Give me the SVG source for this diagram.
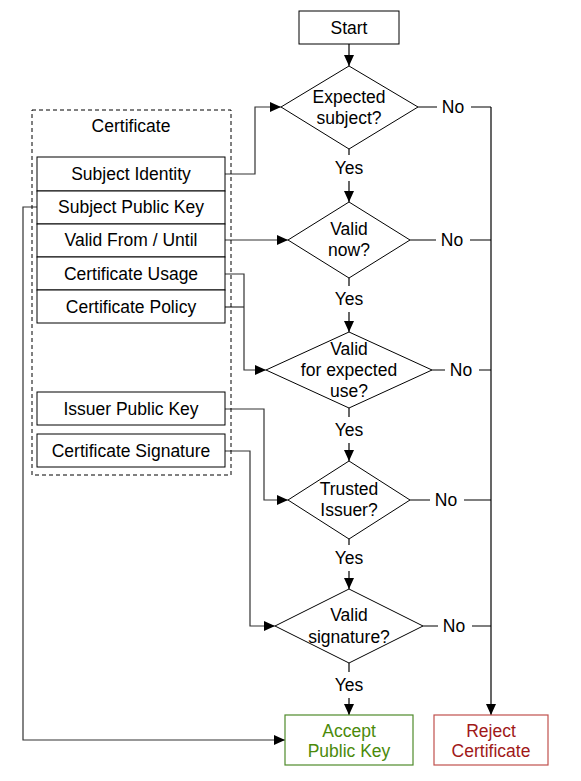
<svg xmlns="http://www.w3.org/2000/svg" width="581" height="781" viewBox="0 0 581 781">
<defs>
<marker id="arr" markerUnits="userSpaceOnUse" markerWidth="12" markerHeight="10" refX="11" refY="5" orient="auto">
<path d="M0,0 L11,5 L0,10 Z" fill="#000"/>
</marker>
<style>
text{font-family:"Liberation Sans",Arial,sans-serif;font-size:17.5px;fill:#000;text-anchor:middle;dominant-baseline:central}
.box{fill:#fff;stroke:#000;stroke-width:1}
.dia{fill:#fff;stroke:#000;stroke-width:1}
.ln{fill:none;stroke:#000;stroke-width:1.2}
.cl{fill:none;stroke:#333;stroke-width:1.2}
.lbl{fill:#fff;stroke:none}
</style>
</defs>
<rect width="581" height="781" fill="#fff"/>

<g id="connectors">
<line class="ln" x1="349" y1="44" x2="349" y2="66" marker-end="url(#arr)"/>
<line class="ln" x1="349" y1="149" x2="349" y2="202" marker-end="url(#arr)"/>
<line class="ln" x1="349" y1="278" x2="349" y2="332" marker-end="url(#arr)"/>
<line class="ln" x1="349" y1="408" x2="349" y2="461" marker-end="url(#arr)"/>
<line class="ln" x1="349" y1="539" x2="349" y2="589" marker-end="url(#arr)"/>
<line class="ln" x1="349" y1="663" x2="349" y2="715" marker-end="url(#arr)"/>
<line class="ln" x1="418" y1="107" x2="491" y2="107"/>
<line class="ln" x1="410" y1="240" x2="491" y2="240"/>
<line class="ln" x1="432" y1="370" x2="491" y2="370"/>
<line class="ln" x1="410" y1="500" x2="491" y2="500"/>
<line class="ln" x1="423" y1="626" x2="491" y2="626"/>
<line class="ln" x1="491" y1="107" x2="491" y2="715" marker-end="url(#arr)"/>
<polyline class="cl" points="225,174 255,174 255,107 281,107" marker-end="url(#arr)"/>
<polyline class="cl" points="225,240 288,240" marker-end="url(#arr)"/>
<polyline class="cl" points="225,274 244,274 244,370 266,370" marker-end="url(#arr)"/>
<polyline class="cl" points="225,307 244,307"/>
<polyline class="cl" points="225,409 264,409 264,500 288,500" marker-end="url(#arr)"/>
<polyline class="cl" points="225,451 250,451 250,626 275,626" marker-end="url(#arr)"/>
<polyline class="cl" points="37,207 23,207 23,740 285,740" marker-end="url(#arr)"/>
<rect class="lbl" x="333" y="155" width="32" height="26"/><text x="349" y="168">Yes</text>
<rect class="lbl" x="333" y="286" width="32" height="26"/><text x="349" y="299">Yes</text>
<rect class="lbl" x="333" y="417" width="32" height="26"/><text x="349" y="430">Yes</text>
<rect class="lbl" x="333" y="545" width="32" height="26"/><text x="349" y="558">Yes</text>
<rect class="lbl" x="333" y="672" width="32" height="26"/><text x="349" y="685">Yes</text>
<rect class="lbl" x="437" y="96" width="34" height="22"/><text x="453" y="107">No</text>
<rect class="lbl" x="436" y="229" width="34" height="22"/><text x="452" y="240">No</text>
<rect class="lbl" x="445" y="359" width="34" height="22"/><text x="461" y="370">No</text>
<rect class="lbl" x="430" y="489" width="34" height="22"/><text x="446" y="500">No</text>
<rect class="lbl" x="438" y="615" width="34" height="22"/><text x="454" y="626">No</text>
</g>

<g id="start">
<rect class="box" x="299" y="11" width="100" height="33"/>
<text x="349" y="28">Start</text>
</g>

<g id="certificate">
<rect x="32" y="110" width="199" height="365" fill="none" stroke="#000" stroke-width="1" stroke-dasharray="4,3"/>
<text x="131" y="126">Certificate</text>
</g>
<g id="subject-identity"><rect class="box" x="37" y="157" width="188" height="34"/><text x="131" y="174">Subject Identity</text></g>
<g id="subject-public-key"><rect class="box" x="37" y="191" width="188" height="33"/><text x="131" y="207">Subject Public Key</text></g>
<g id="valid-from-until"><rect class="box" x="37" y="224" width="188" height="33"/><text x="131" y="240">Valid From / Until</text></g>
<g id="certificate-usage"><rect class="box" x="37" y="257" width="188" height="33"/><text x="131" y="274">Certificate Usage</text></g>
<g id="certificate-policy"><rect class="box" x="37" y="290" width="188" height="33"/><text x="131" y="307">Certificate Policy</text></g>
<g id="issuer-public-key"><rect class="box" x="37" y="392" width="188" height="33"/><text x="131" y="409">Issuer Public Key</text></g>
<g id="certificate-signature"><rect class="box" x="37" y="434" width="188" height="33"/><text x="131" y="451">Certificate Signature</text></g>

<g id="expected-subject">
<polygon class="dia" points="349,66 418,107 349,149 281,107"/>
<text x="349" y="97">Expected</text><text x="349" y="118">subject?</text>
</g>
<g id="valid-now">
<polygon class="dia" points="349,202 410,240 349,278 288,240"/>
<text x="349" y="229">Valid</text><text x="349" y="250">now?</text>
</g>
<g id="valid-use">
<polygon class="dia" points="349,332 432,370 349,408 266,370"/>
<text x="349" y="349">Valid</text><text x="349" y="370">for expected</text><text x="349" y="391">use?</text>
</g>
<g id="trusted-issuer">
<polygon class="dia" points="349,461 410,500 349,539 288,500"/>
<text x="349" y="489">Trusted</text><text x="349" y="510">Issuer?</text>
</g>
<g id="valid-signature">
<polygon class="dia" points="349,589 423,626 349,663 275,626"/>
<text x="349" y="615">Valid</text><text x="349" y="637">signature?</text>
</g>

<g id="accept">
<rect x="285" y="715" width="128" height="50" fill="#fff" stroke="#4f8a2a" stroke-width="1.2"/>
<text x="349" y="731" style="fill:#4b8a0a">Accept</text><text x="349" y="751" style="fill:#4b8a0a">Public Key</text>
</g>
<g id="reject">
<rect x="434" y="715" width="114" height="50" fill="#fff" stroke="#c0504d" stroke-width="1.2"/>
<text x="491" y="731" style="fill:#a01818">Reject</text><text x="491" y="751" style="fill:#a01818">Certificate</text>
</g>
</svg>
